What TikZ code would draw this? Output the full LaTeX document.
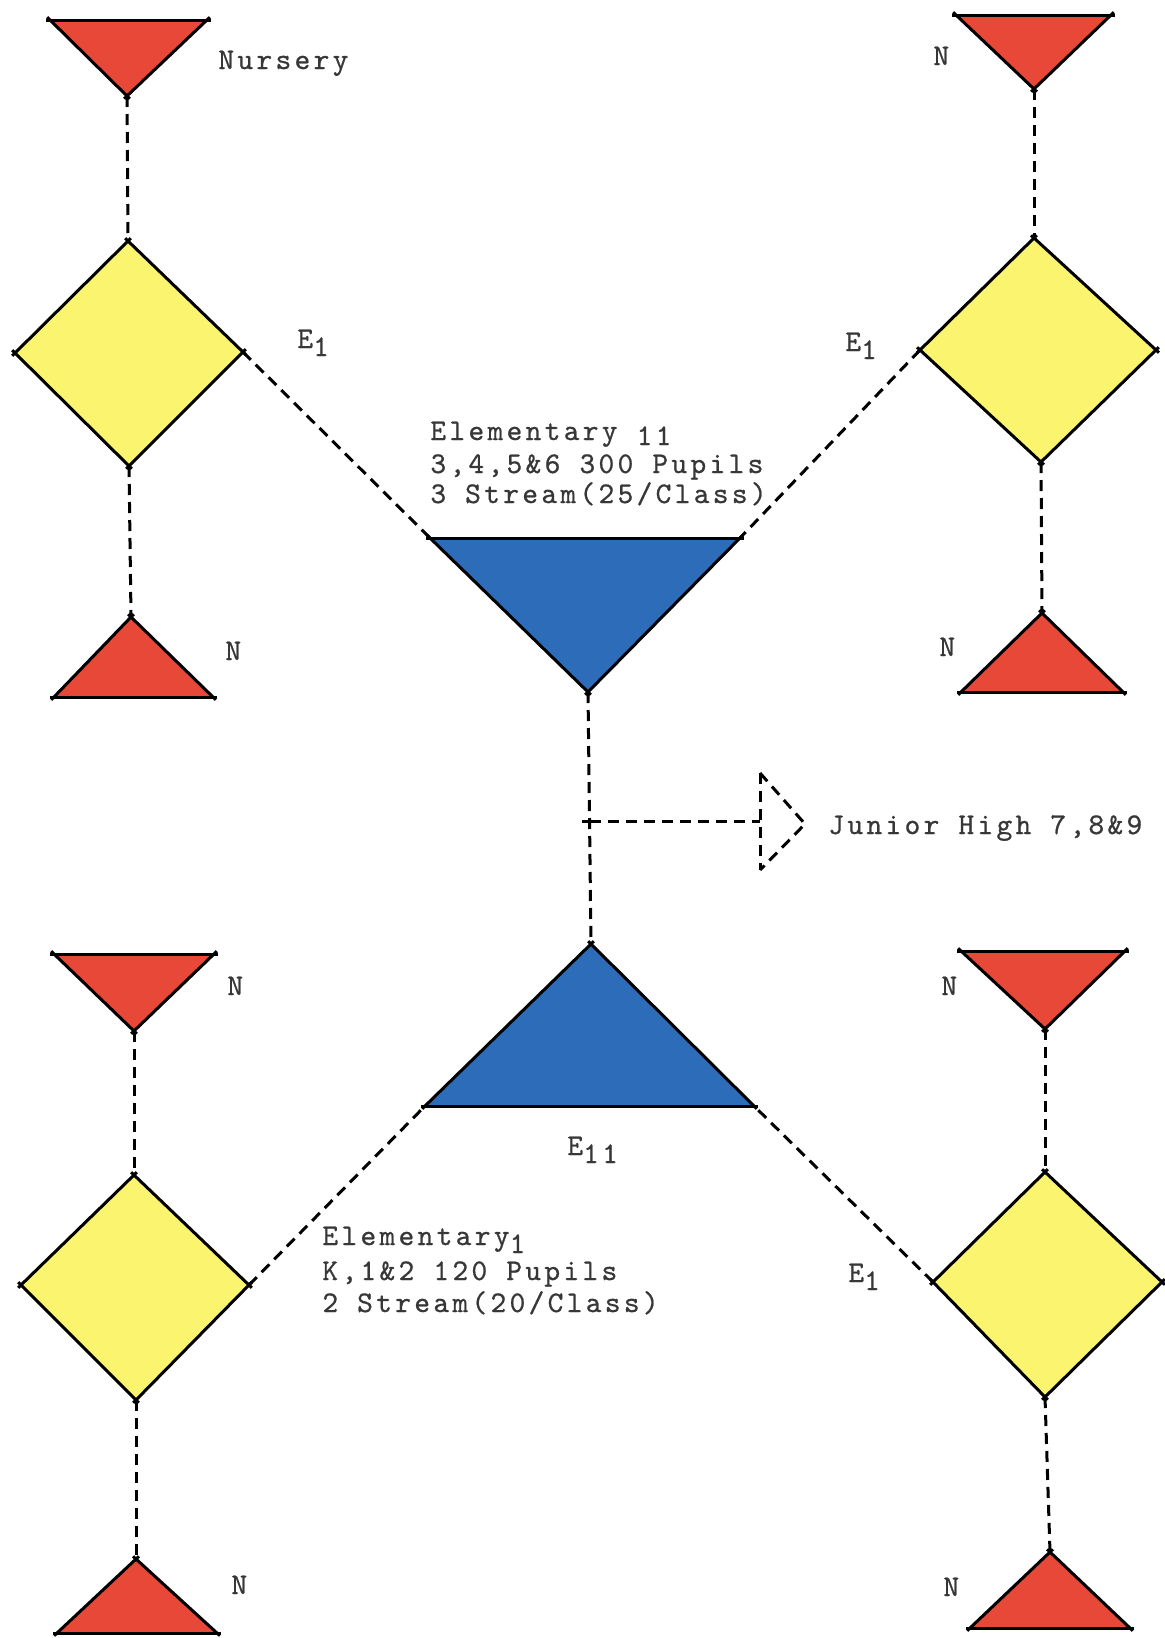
\documentclass[tikz,border=0pt]{standalone}
\usepackage{fontspec}
\newfontfamily\tw{lmmono10-regular.otf}[LetterSpace=11,FakeBold=0.7]
\definecolor{nred}{RGB}{232,72,55}
\definecolor{nyellow}{RGB}{250,244,110}
\definecolor{nblue}{RGB}{45,108,185}
\definecolor{txtgrey}{RGB}{55,55,55}
\newcommand\lowsub[2][-4pt]{\raisebox{#1}[0pt][0pt]{#2}}
\newcommand\drawtri[4]{%
  \fill[#1] (#2) -- (#3) -- (#4) -- cycle;
  \draw[edge] (#2) -- (#3); \draw[edge] (#3) -- (#4); \draw[edge] (#4) -- (#2);}
\newcommand\drawdia[4]{%
  \fill[nyellow] (#1) -- (#2) -- (#3) -- (#4) -- cycle;
  \draw[edge] (#1) -- (#2); \draw[edge] (#2) -- (#3); \draw[edge] (#3) -- (#4); \draw[edge] (#4) -- (#1);}
\begin{document}
\begin{tikzpicture}[x=0.5pt,y=-0.5pt,
  edge/.style={draw=black,line width=1.5pt,shorten <=-2pt,shorten >=-2pt},
  conn/.style={line width=1.5pt,dash pattern=on 5.5pt off 3.5pt},
  lab/.style={font={\tw\fontsize{15pt}{17pt}\selectfont},text=txtgrey,inner sep=0pt,anchor=base west}]
\useasboundingbox (0,0) rectangle (1164,1638);
% ---- top-left group
\coordinate (n1a) at (50,20); \coordinate (n1b) at (207,20); \coordinate (n1c) at (127,96);
\coordinate (d1t) at (128,241); \coordinate (d1r) at (243,352); \coordinate (d1b) at (129,466); \coordinate (d1l) at (15,353);
\coordinate (n2c) at (131,617); \coordinate (n2a) at (54,697); \coordinate (n2b) at (213,697);
% ---- top-right group
\coordinate (n3a) at (956,15); \coordinate (n3b) at (1111,15); \coordinate (n3c) at (1034,89);
\coordinate (d2t) at (1034,238); \coordinate (d2r) at (1156,350); \coordinate (d2b) at (1041,462); \coordinate (d2l) at (920,350);
\coordinate (n4c) at (1042,613); \coordinate (n4a) at (961,692); \coordinate (n4b) at (1123,692);
% ---- centre
\coordinate (b1a) at (430,538); \coordinate (b1b) at (740,538); \coordinate (b1c) at (588,692);
\coordinate (b2c) at (591,944); \coordinate (b2a) at (425,1106); \coordinate (b2b) at (754,1106);
\coordinate (jn) at (590,821);
\coordinate (ar1) at (760,773); \coordinate (ar2) at (760,870); \coordinate (arp) at (805,824); \coordinate (arm) at (760,821);
% ---- lower-left group
\coordinate (n5a) at (54,954); \coordinate (n5b) at (214,954); \coordinate (n5c) at (134,1031);
\coordinate (d3t) at (134,1175); \coordinate (d3r) at (249,1285); \coordinate (d3b) at (136,1400); \coordinate (d3l) at (21,1285);
\coordinate (n6c) at (136,1559); \coordinate (n6a) at (57,1633); \coordinate (n6b) at (217,1633);
% ---- lower-right group
\coordinate (n7a) at (961,951); \coordinate (n7b) at (1125,951); \coordinate (n7c) at (1045,1029);
\coordinate (d4t) at (1045,1172); \coordinate (d4r) at (1162,1282); \coordinate (d4b) at (1045,1397); \coordinate (d4l) at (933,1282);
\coordinate (n8c) at (1050,1552); \coordinate (n8a) at (970,1628); \coordinate (n8b) at (1130,1628);
% ---- connectors (under shapes)
\draw[conn] (n1c) -- (d1t);
\draw[conn] (d1b) -- (n2c);
\draw[conn] (n3c) -- (d2t);
\draw[conn] (d2b) -- (n4c);
\draw[conn] (d1r) -- (b1a);
\draw[conn] (d2l) -- (b1b);
\draw[conn] (b1c) -- (b2c);
\draw[conn] (jn) -- (arm);
\draw[conn] (ar1) -- (ar2);
\draw[conn] (ar1) -- (arp) -- (ar2);
\draw[line width=1.5pt] ([xshift=-4pt]jn) -- ([xshift=2pt]jn);
\draw[conn] (n5c) -- (d3t);
\draw[conn] (d3b) -- (n6c);
\draw[conn] (n7c) -- (d4t);
\draw[conn] (d4b) -- (n8c);
\draw[conn] (d3r) -- (b2a);
\draw[conn] (d4l) -- (b2b);
% ---- shapes
\drawtri{nred}{n1a}{n1b}{n1c}
\drawdia{d1t}{d1r}{d1b}{d1l}
\drawtri{nred}{n2c}{n2b}{n2a}
\drawtri{nred}{n3a}{n3b}{n3c}
\drawdia{d2t}{d2r}{d2b}{d2l}
\drawtri{nred}{n4c}{n4b}{n4a}
\drawtri{nblue}{b1a}{b1b}{b1c}
\drawtri{nblue}{b2c}{b2b}{b2a}
\drawtri{nred}{n5a}{n5b}{n5c}
\drawdia{d3t}{d3r}{d3b}{d3l}
\drawtri{nred}{n6c}{n6b}{n6a}
\drawtri{nred}{n7a}{n7b}{n7c}
\drawdia{d4t}{d4r}{d4b}{d4l}
\drawtri{nred}{n8c}{n8b}{n8a}
% ---- labels
\node[lab] (tNurs) at (218,69) {Nursery};
\node[lab] (tN1) at (225,660) {N};
\node[lab] (tN2) at (933,65) {N};
\node[lab] (tN3) at (939,656) {N};
\node[lab] (tN4) at (227,995) {N};
\node[lab] (tN5) at (231,1594) {N};
\node[lab] (tN6) at (941,995) {N};
\node[lab] (tN7) at (943,1596) {N};
\node[lab] (tE1a) at (297,348) {E\lowsub{1}};
\node[lab] (tE1b) at (845,351) {E\lowsub{1}};
\node[lab] (tE1c) at (848,1282) {E\lowsub{1}};
\node[lab] (tE11) at (567,1155) {E\lowsub{11}};
\node[lab] (tEl2a) at (430,440) {Elementary \lowsub[-2.5pt]{11}};
\node[lab] (tEl2b) at (430,473) {3,4,5\&6 300 Pupils};
\node[lab] (tEl2c) at (430,503) {3 Stream(25/Class)};
\node[lab] (tEl1a) at (322,1245) {Elementary\lowsub{1}};
\node[lab] (tEl1b) at (322,1280) {K,1\&2 120 Pupils};
\node[lab] (tEl1c) at (322,1312) {2 Stream(20/Class)};
\node[lab] (tJH) at (828,834) {Junior High 7,8\&9};
\end{tikzpicture}
\end{document}
